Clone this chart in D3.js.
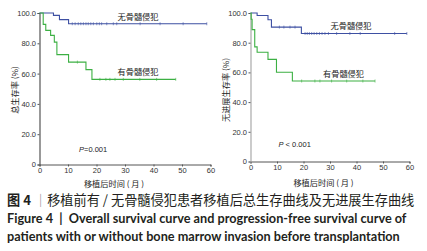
<!DOCTYPE html>
<html>
<head>
<meta charset="utf-8">
<script src="https://cdn.jsdelivr.net/npm/d3@7"></script>
<style>
	body { margin: 0; background: #fff; }
	svg text { font-family: "Liberation Sans", Arial, sans-serif; }
	.cjk { font-family: "Noto Sans CJK SC", sans-serif; }
</style>
</head>
<body>
<svg id="fig" width="427" height="251"></svg>
<script>
// overall survival (left panel)
var osNoTimes = [0, 4.9, 7.0, 10.2, 58.7];
var osNoSurv = [100, 98.4, 95.6, 92.9, 92.9];
var osNoCensor = [11.5, 12.5, 13.6, 14.5, 15.4, 16.3, 17.1, 18, 18.9, 20.1, 21, 21.8, 23.6, 25.9, 27.1, 35.3, 42.3, 50.4, 58.7];

var osYesTimes = [0, 1.3, 2.2, 3.9, 5.2, 6.1, 10.2, 16.3, 18.4, 47.8];
var osYesSurv = [100, 92.5, 88.5, 85.2, 80.8, 72.5, 67.6, 62.6, 56.2, 56.2];
var osYesCensor = [13.3, 21.2, 23.3, 24.7, 26.5, 29.4, 35.2, 41.1, 47.8];

// progression-free survival (right panel)
var pfsNoTimes = [0, 2.5, 6.6, 7.9, 19.2, 59];
var pfsNoSurv = [100, 98.3, 95.5, 90.5, 86.2, 86.2];
var pfsNoCensor = [10.9, 12.6, 14.9, 16.8, 20.6, 21.4, 22.2, 23.1, 24, 25, 26, 27, 28.1, 29.4, 32.5, 37.5, 41.4, 54.4, 59];

var pfsYesTimes = [0, 0.25, 0.6, 1.6, 2.5, 6.6, 9.8, 15.8, 47];
var pfsYesSurv = [100, 95.8, 88.8, 77.2, 73.6, 68.8, 60.1, 54.2, 54.2];
var pfsYesCensor = [19.3, 24.3, 26.2, 30.6, 36.3, 42.4, 47];

var yTicks = [0, 20, 40, 60, 80, 100];
var xTicks = [0, 10, 20, 30, 40, 50, 60];

var groupNames = ["无骨髓侵犯", "有骨髓侵犯"];
var yTitles = ["总生存率 (%)", "无进展生存率 (%)"];
var xTitle = "移植后时间 ( 月 )";
var pTexts = [["P", "=0.001"], ["P", " < 0.001"]];

var captionCn = ["图 4", "｜", "移植前有 / 无骨髓侵犯患者移植后总生存曲线及无进展生存曲线"];
var captionEn = ["Figure 4  |  Overall survival curve and progression-free survival curve of",
	"patients with or without bone marrow invasion before transplantation"];

;(function(){
	var svg = d3.select("#fig");
	var blue = "#3e50a3";
	var green = "#3cb043";

	function levelAt(times, surv, t){
		var v = surv[0];
		for (var i = 0; i < times.length; i++){
			if (times[i] <= t) v = surv[i];
		}
		return v;
	}

	function drawPanel(p){
		var xscale = d3.scaleLinear().domain([0, 60]).range(p.xrange);
		var yscale = d3.scaleLinear().domain([0, 100]).range(p.yrange);

		var g = svg.append("g");

		// axes
		var yaxis = d3.axisLeft(yscale)
			.tickValues(yTicks)
			.tickSize(2)
			.tickPadding(1.5)
			.tickFormat(function(d){ return d === 0 ? "0" : d3.format(".1f")(d); });
		var xaxis = d3.axisBottom(xscale)
			.tickValues(xTicks)
			.tickSize(2)
			.tickPadding(1.5);

		var gx = g.append("g")
			.attr("transform", "translate(0," + p.yrange[0] + ")")
			.call(xaxis);
		var gy = g.append("g")
			.attr("transform", "translate(" + p.xrange[0] + ",0)")
			.call(yaxis);

		gx.select(".domain").attr("stroke", "#555").attr("stroke-width", 1);
		gx.selectAll(".tick line").attr("stroke", "#555");
		gy.select(".domain").attr("stroke", p.yAxisColor).attr("stroke-width", 1.2);
		gy.selectAll(".tick line").attr("stroke", "#555");
		g.selectAll(".tick text")
			.attr("fill", "#333")
			.style("font-size", "7.5px")
			.style("font-family", "'Liberation Sans', Arial, sans-serif");

		// curves
		var line = d3.line()
			.x(function(d){ return xscale(d[0]); })
			.y(function(d){ return yscale(d[1]); })
			.curve(d3.curveStepAfter);

		p.curves.forEach(function(c){
			var pts = c.times.map(function(t, i){ return [t, c.surv[i]]; });
			g.append("path")
				.attr("d", line(pts))
				.attr("fill", "none")
				.attr("stroke", c.color)
				.attr("stroke-width", 1.1);

			g.selectAll(null)
				.data(c.censor)
				.enter().append("line")
					.attr("x1", function(d){ return xscale(d); })
					.attr("x2", function(d){ return xscale(d); })
					.attr("y1", function(d){ return yscale(levelAt(c.times, c.surv, d)) - 1.5; })
					.attr("y2", function(d){ return yscale(levelAt(c.times, c.surv, d)) + 1.5; })
					.attr("stroke", c.color)
					.attr("stroke-width", 0.6);

			g.append("text")
				.attr("class", "cjk")
				.attr("x", c.labelPos[0])
				.attr("y", c.labelPos[1])
				.attr("text-anchor", "middle")
				.attr("dominant-baseline", "central")
				.style("font-size", "8.2px")
				.attr("fill", "#222")
				.text(c.label);
		});

		// titles
		g.append("text")
			.attr("class", "cjk")
			.attr("transform", "translate(" + p.yTitlePos[0] + "," + p.yTitlePos[1] + ") rotate(-90)")
			.attr("text-anchor", "middle")
			.attr("dominant-baseline", "central")
			.style("font-size", "8.2px")
			.attr("fill", "#222")
			.text(p.yTitle);

		g.append("text")
			.attr("class", "cjk")
			.attr("x", p.xTitlePos[0])
			.attr("y", p.xTitlePos[1])
			.attr("text-anchor", "middle")
			.attr("dominant-baseline", "central")
			.style("font-size", "8.2px")
			.attr("fill", "#222")
			.text(xTitle);

		var pt = g.append("text")
			.attr("x", p.pPos[0])
			.attr("y", p.pPos[1])
			.attr("dominant-baseline", "central")
			.style("font-size", "7.5px")
			.style("white-space", "pre")
			.attr("fill", "#222");
		pt.append("tspan").style("font-style", "italic").text(p.pText[0]);
		pt.append("tspan").text(p.pText[1]);
	}

	drawPanel({
		xrange: [39.5, 210.5],
		yrange: [164.5, 13],
		yAxisColor: "#555",
		yTitle: yTitles[0],
		yTitlePos: [14, 90],
		xTitlePos: [114, 182.5],
		pText: pTexts[0],
		pPos: [79, 149],
		curves: [
			{ times: osNoTimes, surv: osNoSurv, censor: osNoCensor, color: blue, label: groupNames[0], labelPos: [138, 15.5] },
			{ times: osYesTimes, surv: osYesSurv, censor: osYesCensor, color: green, label: groupNames[1], labelPos: [138, 70.5] }
		]
	});

	drawPanel({
		xrange: [250.5, 409.5],
		yrange: [161.5, 13],
		yAxisColor: "#aaa",
		yTitle: yTitles[1],
		yTitlePos: [225, 90],
		xTitlePos: [323.5, 181.5],
		pText: pTexts[1],
		pPos: [278.5, 144],
		curves: [
			{ times: pfsNoTimes, surv: pfsNoSurv, censor: pfsNoCensor, color: blue, label: groupNames[0], labelPos: [351, 25] },
			{ times: pfsYesTimes, surv: pfsYesSurv, censor: pfsYesCensor, color: green, label: groupNames[1], labelPos: [343.5, 72.5] }
		]
	});

	// caption
	var cap = svg.append("g");
	var c1 = cap.append("text")
		.attr("class", "cjk")
		.attr("x", 7)
		.attr("y", 204.5)
		.style("font-size", "13.2px")
		.attr("fill", "#231f20");
	c1.append("tspan").style("font-weight", "bold").text(captionCn[0]);
	c1.append("tspan").attr("dx", 3).attr("fill", "#888").text(captionCn[1]);
	c1.append("tspan").text(captionCn[2]);

	captionEn.forEach(function(s, i){
		cap.append("text")
			.attr("x", 7)
			.attr("y", 222.5 + i * 18)
			.style("font-family", "Lato, 'Open Sans', sans-serif")
			.style("font-weight", "bold")
			.style("font-size", "12.7px")
			.style("white-space", "pre")
			.attr("fill", "#231f20")
			.text(s);
	});
})();
</script>
</body>
</html>
